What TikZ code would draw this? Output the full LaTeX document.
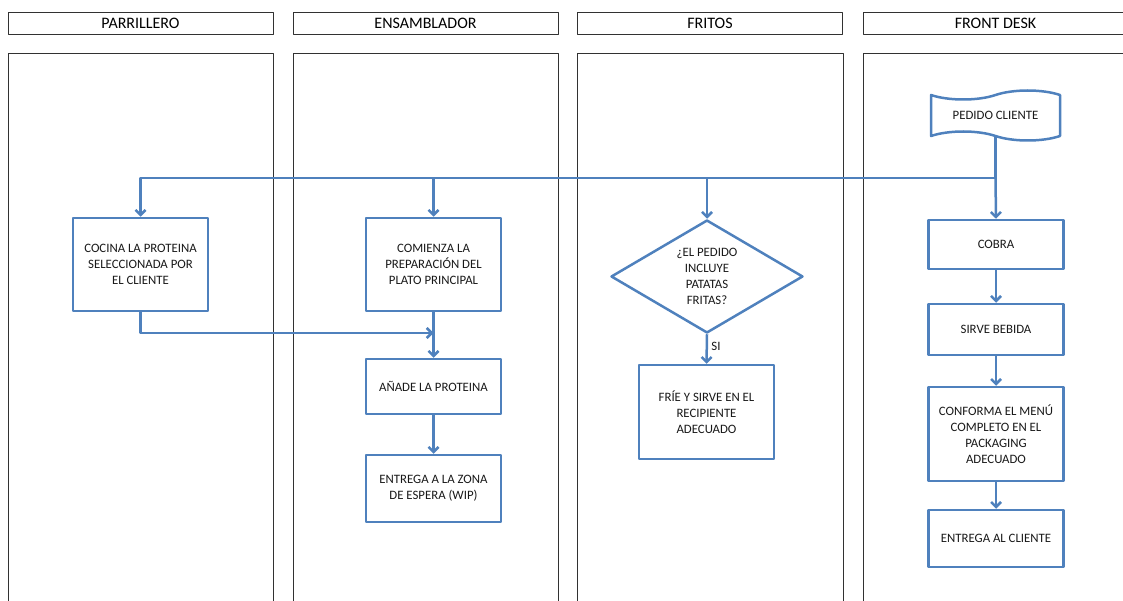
\documentclass[tikz,border=0pt]{standalone}
\usepackage{fontspec}
\setmainfont{Carlito}
\usetikzlibrary{arrows.meta,shapes.geometric,shapes.symbols}
\definecolor{flowblue}{RGB}{79,129,189}
\definecolor{lanegray}{RGB}{50,50,50}
\tikzset{
  lanehead/.style={draw=lanegray, line width=0.9pt, minimum width=265pt, minimum height=22pt,
    inner sep=0pt, font=\fontsize{16}{18}\selectfont},
  stepbox/.style={draw=flowblue, line width=2.5pt, fill=white, minimum width=135pt,
    align=center, inner sep=0pt, text=black!90},
  decision/.style={draw=flowblue, line width=2.5pt, diamond, aspect=1.7, inner sep=0pt,
    minimum width=192pt, minimum height=113pt, align=center, text=black!90},
  tapebox/.style={draw=flowblue, line width=2.5pt, tape, tape bend top=in and out,
    tape bend bottom=out and in, tape bend height=9pt, minimum width=129pt,
    minimum height=50pt, inner sep=0pt, text=black!90},
  flow/.style={draw=flowblue, line width=2.5pt, -{Straight Barb[length=5pt,width=10pt]}},
}
\begin{document}
\begin{tikzpicture}[x=1pt, y=-1pt, font=\fontsize{12.8}{16}\selectfont, line join=round]
				\useasboundingbox (0, 0) rectangle (1123, 601);
				% swimlanes
				\node[lanehead] (hparr) at (140.5, 23) {PARRILLERO};
				\node[lanehead] (hens) at (425.5, 23) {ENSAMBLADOR};
				\node[lanehead] (hfri) at (710, 23) {FRITOS};
				\draw[lanegray, line width=0.9pt] (1123, 12)--(863, 12)--(863, 34)--(1123, 34);
				\node[font=\fontsize{16}{18}\selectfont] (hfront) at (995.5, 23) {FRONT DESK};
				\draw[lanegray, line width=0.9pt] (8, 601)--(8, 53)--(273, 53)--(273, 601);
				\draw[lanegray, line width=0.9pt] (293, 601)--(293, 53)--(558, 53)--(558, 601);
				\draw[lanegray, line width=0.9pt] (577, 601)--(577, 53)--(843, 53)--(843, 601);
				\draw[lanegray, line width=0.9pt] (863, 601)--(863, 53)--(1123, 53);
				% pasos
				\node[tapebox] (pedido) at (995.5, 115.5) {PEDIDO CLIENTE};
				\node[stepbox, minimum height=93pt] (cocina) at (140.5, 264.5) {COCINA LA PROTEINA\\SELECCIONADA POR\\EL CLIENTE};
				\node[stepbox, minimum height=93pt] (comienza) at (433.5, 264.5) {COMIENZA LA\\PREPARACIÓN DEL\\PLATO PRINCIPAL};
				\node[stepbox, minimum height=55pt] (anade) at (433.5, 386.5) {AÑADE LA PROTEINA};
				\node[stepbox, minimum height=67pt] (zona) at (433.5, 488.5) {ENTREGA A LA ZONA\\DE ESPERA (WIP)};
				\node[decision] (patatas) at (707, 276.5) {¿EL PEDIDO\\INCLUYE\\PATATAS\\FRITAS?};
				\node[stepbox, minimum height=94pt] (frie) at (706.5, 412) {FRÍE Y SIRVE EN EL\\RECIPIENTE\\ADECUADO};
				\node[stepbox, minimum height=49pt] (cobra) at (996, 244.5) {COBRA};
				\node[stepbox, minimum height=51pt] (bebida) at (996, 329.5) {SIRVE BEBIDA};
				\node[stepbox, minimum height=94pt] (menu) at (996, 434) {CONFORMA EL MENÚ\\COMPLETO EN EL\\PACKAGING\\ADECUADO};
				\node[stepbox, minimum height=57pt] (cliente) at (996, 538.5) {ENTREGA AL CLIENTE};
				\coordinate (bus) at (995.5, 178);
				\coordinate (junta) at (433.5, 333);
				% conectores
				\draw[flow] (pedido.south)--(bus)-|(cocina.north);
				\draw[flow] (comienza.north |- bus)--(comienza.north);
				\draw[flow] (patatas.north |- bus)--(patatas.north);
				\draw[flow] (bus)--(cobra.north);
				\draw[flow] (cocina.south) |- (junta);
				\draw[flow] (comienza.south)--(anade.north);
				\draw[flow] (anade.south)--(zona.north);
				\draw[flow] (patatas.south)--(frie.north) node[pos=0.4, right, text=black!90] {SI};
				\draw[flow] (cobra.south)--(bebida.north);
				\draw[flow] (bebida.south)--(menu.north);
				\draw[flow] (menu.south)--(cliente.north);
			\end{tikzpicture}
\end{document}
